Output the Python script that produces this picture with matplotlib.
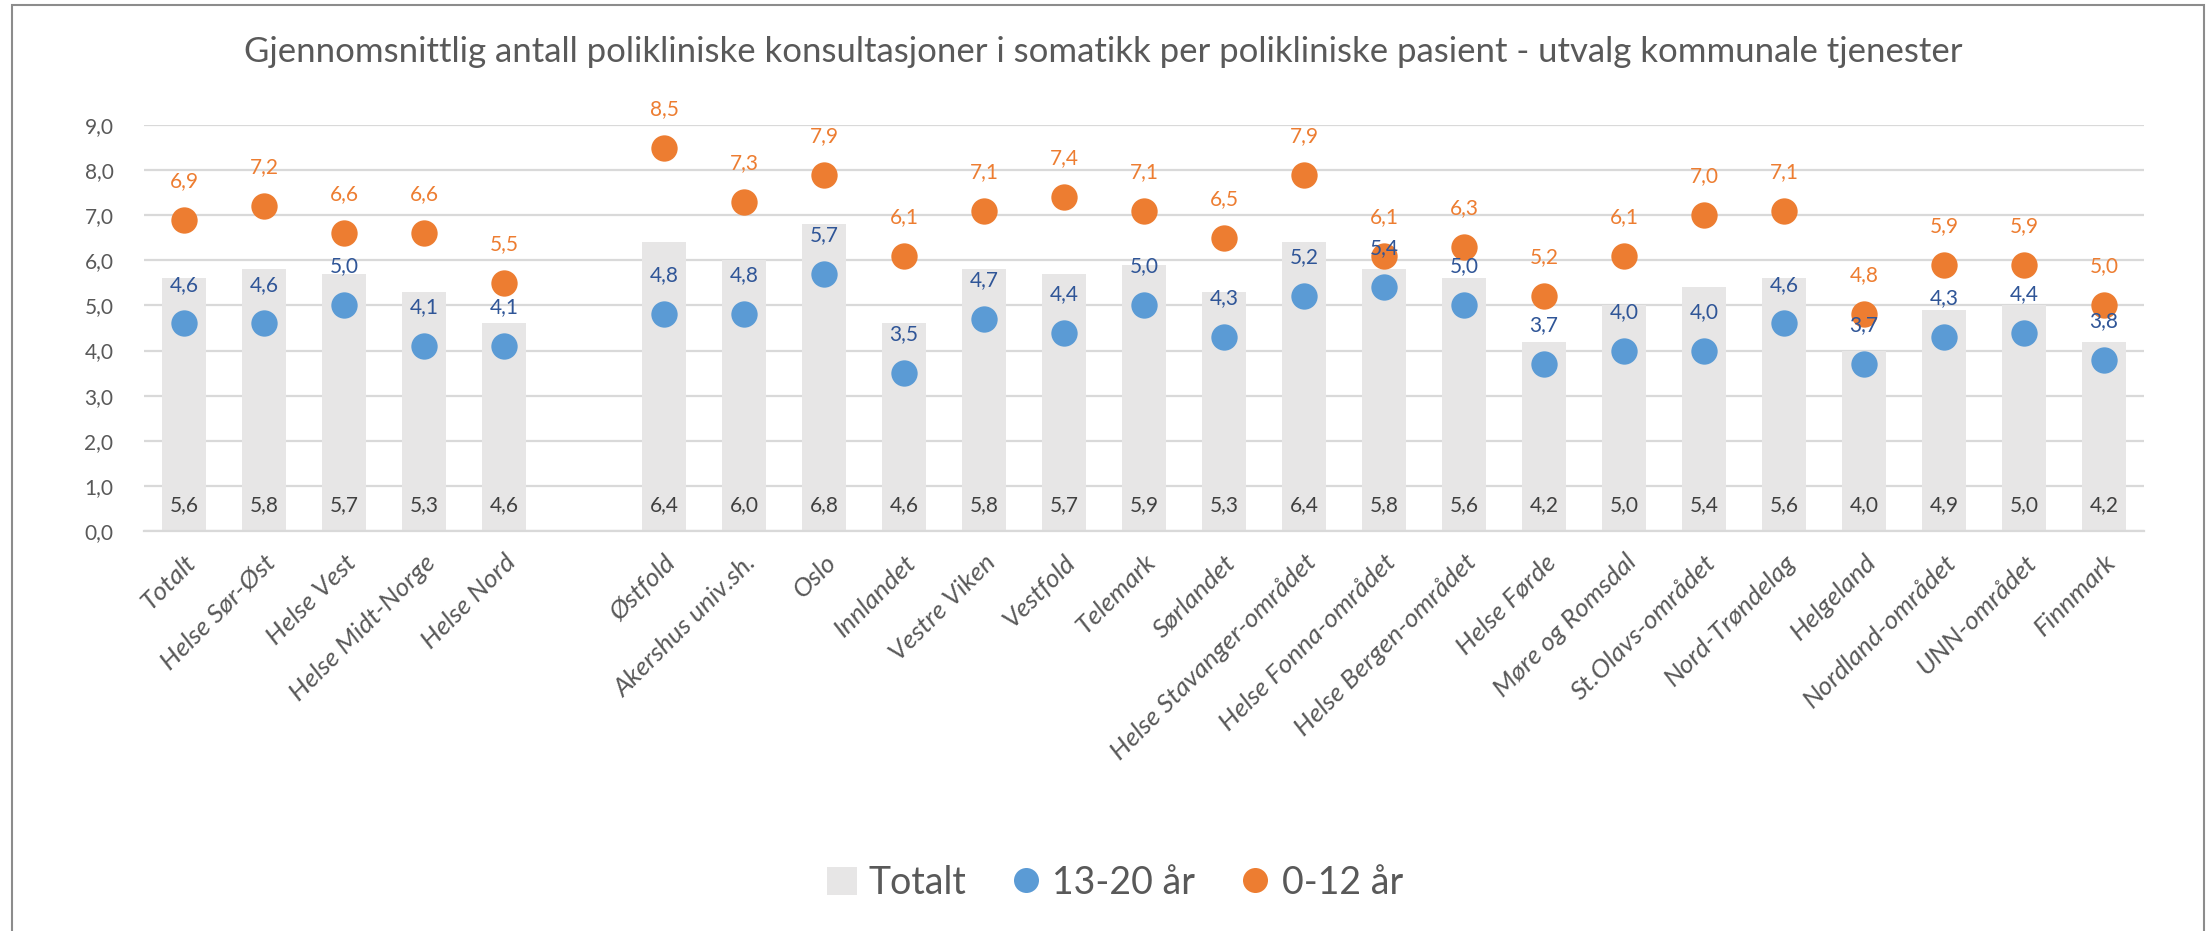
import matplotlib
matplotlib.use("Agg")
import matplotlib.pyplot as plt
import numpy as np
from matplotlib.patches import Rectangle, Patch
from matplotlib.lines import Line2D

plt.rcParams['font.family'] = ['Lato', 'DejaVu Sans']

title = "Gjennomsnittlig antall polikliniske konsultasjoner i somatikk per polikliniske pasient - utvalg kommunale tjenester"
categories = ["Totalt", "Helse Sør-Øst", "Helse Vest", "Helse Midt-Norge", "Helse Nord", "",
              "Østfold", "Akershus univ.sh.", "Oslo", "Innlandet", "Vestre Viken", "Vestfold",
              "Telemark", "Sørlandet", "Helse Stavanger-området", "Helse Fonna-området",
              "Helse Bergen-området", "Helse Førde", "Møre og Romsdal", "St.Olavs-området",
              "Nord-Trøndelag", "Helgeland", "Nordland-området", "UNN-området", "Finnmark"]
totalt = [5.6, 5.8, 5.7, 5.3, 4.6, np.nan, 6.4, 6.0, 6.8, 4.6, 5.8, 5.7, 5.9, 5.3, 6.4, 5.8,
          5.6, 4.2, 5.0, 5.4, 5.6, 4.0, 4.9, 5.0, 4.2]
age_13_20 = [4.6, 4.6, 5.0, 4.1, 4.1, np.nan, 4.8, 4.8, 5.7, 3.5, 4.7, 4.4, 5.0, 4.3, 5.2, 5.4,
             5.0, 3.7, 4.0, 4.0, 4.6, 3.7, 4.3, 4.4, 3.8]
age_0_12 = [6.9, 7.2, 6.6, 6.6, 5.5, np.nan, 8.5, 7.3, 7.9, 6.1, 7.1, 7.4, 7.1, 6.5, 7.9, 6.1,
            6.3, 5.2, 6.1, 7.0, 7.1, 4.8, 5.9, 5.9, 5.0]
yticks = [0, 1, 2, 3, 4, 5, 6, 7, 8, 9]
series_names = ["Totalt", "13-20 år", "0-12 år"]

C_BAR = "#E7E6E6"
C_BLUE = "#5B9BD5"
C_ORANGE = "#ED7D31"
C_BLUE_TXT = "#2F5597"
C_TXT = "#595959"
C_BARTXT = "#404040"
C_GRID = "#D9D9D9"

def fmt(v):
    return f"{v:.1f}".replace(".", ",")

W, H = 2206, 931
fig = plt.figure(figsize=(W / 100, H / 100), dpi=100)
ax = fig.add_axes([144 / W, 1 - 531 / H, 2000 / W, 406 / H])

x = np.arange(len(categories))
ax.bar(x, totalt, width=0.55, color=C_BAR, zorder=2)
ax.scatter(x, age_13_20, s=360, color=C_BLUE, zorder=3, linewidths=0)
ax.scatter(x, age_0_12, s=360, color=C_ORANGE, zorder=3, linewidths=0)

for xi, t, b, o in zip(x, totalt, age_13_20, age_0_12):
    if np.isnan(t):
        continue
    ax.annotate(fmt(t), (xi, 0), xytext=(0, 18.5), textcoords="offset points",
                ha="center", va="center", fontsize=15, color=C_BARTXT, zorder=6, annotation_clip=False)
    ax.annotate(fmt(b), (xi, b), xytext=(0, 28), textcoords="offset points",
                ha="center", va="center", fontsize=15, color=C_BLUE_TXT, zorder=6, annotation_clip=False)
    ax.annotate(fmt(o), (xi, o), xytext=(0, 28), textcoords="offset points",
                ha="center", va="center", fontsize=15, color=C_ORANGE, zorder=6, annotation_clip=False)

ax.set_xlim(-0.5, len(categories) - 0.5)
ax.set_ylim(0, 9)
ax.set_yticks(yticks)
ax.set_yticklabels([fmt(v) for v in yticks], fontsize=15, color=C_TXT)
ax.yaxis.grid(True, color=C_GRID, linewidth=1.6, zorder=1)
ax.set_axisbelow(True)
ax.set_xticks(x)
ax.set_xticklabels(categories, rotation=45, ha="right", va="top", rotation_mode="anchor",
                   fontsize=19, style="italic", color=C_TXT)
ax.tick_params(axis="both", length=0)
ax.tick_params(axis="y", pad=22)
ax.tick_params(axis="x", pad=14)
for s in ["top", "right", "left"]:
    ax.spines[s].set_visible(False)
ax.spines["bottom"].set_color(C_GRID)
ax.spines["bottom"].set_linewidth(1.6)

fig.text(0.5, 1 - 52 / H, title, ha="center", va="center", fontsize=25, color=C_TXT)

handles = [Patch(facecolor=C_BAR, edgecolor="none"),
           Line2D([], [], marker="o", linestyle="none", markersize=18, color=C_BLUE, markeredgewidth=0),
           Line2D([], [], marker="o", linestyle="none", markersize=18, color=C_ORANGE, markeredgewidth=0)]
leg = fig.legend(handles, series_names, loc="center", bbox_to_anchor=(1115 / W, 1 - 883 / H),
                 ncol=3, frameon=False, fontsize=27, handlelength=0.8, handletextpad=0.3,
                 columnspacing=1.2, handleheight=0.8)
for t in leg.get_texts():
    t.set_color(C_TXT)

fig.patches.append(Rectangle((12 / W, -0.01), (2204 - 12) / W, 1 - 5 / H + 0.01,
                             transform=fig.transFigure, fill=False, edgecolor="#8C8C8C",
                             linewidth=1.5, zorder=0))

fig.savefig("out.png", dpi=100, facecolor="white")
